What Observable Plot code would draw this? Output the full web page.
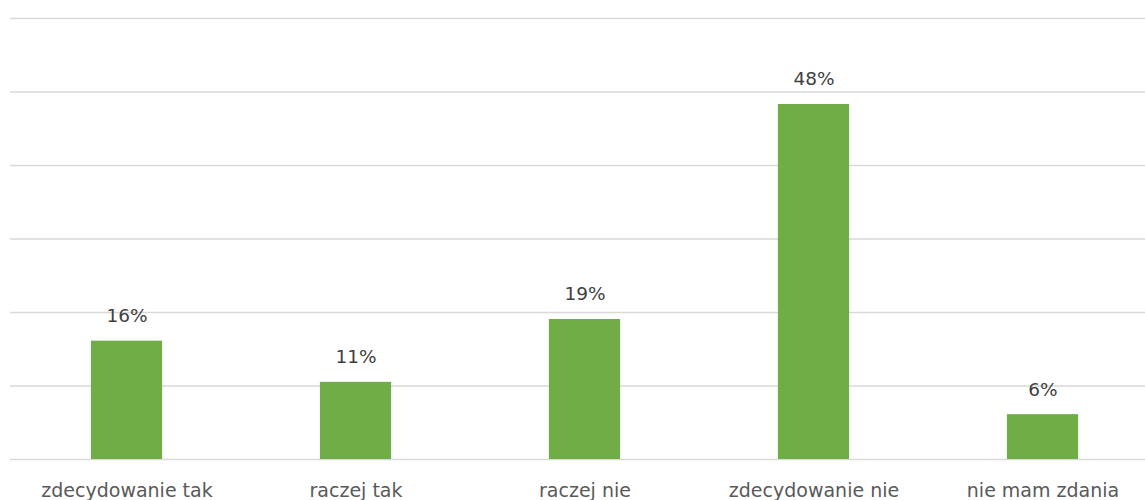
<!DOCTYPE html>
<html>
<head>
<meta charset="utf-8">
<script src="https://cdn.jsdelivr.net/npm/d3@7"></script>
<script src="https://cdn.jsdelivr.net/npm/@observablehq/plot@0.6"></script>
<style>
  html, body { margin: 0; padding: 0; background: #fff; overflow: hidden; }
</style>
</head>
<body>
<div id="chart"></div>
<script>
const categories = ["zdecydowanie tak", "raczej tak", "raczej nie", "zdecydowanie nie", "nie mam zdania"];
const values = [16.1, 10.5, 19.05, 48.3, 6.1];
const valueLabels = ["16%", "11%", "19%", "48%", "6%"];
const gridTicks = [0, 10, 20, 30, 40, 50, 60];

const data = categories.map((c, i) => ({ category: c, value: values[i], label: valueLabels[i] }));

const chart = Plot.plot({
  width: 1145,
  height: 500,
  marginTop: 18,
  marginBottom: 41,
  marginLeft: 10,
  marginRight: 0,
  style: { fontFamily: "'DejaVu Sans', sans-serif", background: "#fff", overflow: "visible" },
  x: { domain: categories, range: [10, 1159], padding: 0, label: null },
  y: { domain: [0, 60], label: null },
  marks: [
    Plot.ruleY(gridTicks, { stroke: "#d9d9d9", strokeWidth: 1.5 }),
    Plot.barY(data, { x: "category", y: "value", fill: "#70ad47", insetLeft: 78.9, insetRight: 78.9 }),
    Plot.text(data, { x: "category", y: "value", text: "label", dy: -19, lineAnchor: "bottom", fill: "#404040", fontSize: 18.5 }),
    Plot.axisX({ tickSize: 0, tickPadding: 24, fontSize: 19, color: "#595959", fill: "#595959" }),
    Plot.axisY({ ticks: [], tickSize: 0 })
  ]
});
document.getElementById("chart").appendChild(chart);
</script>
</body>
</html>
